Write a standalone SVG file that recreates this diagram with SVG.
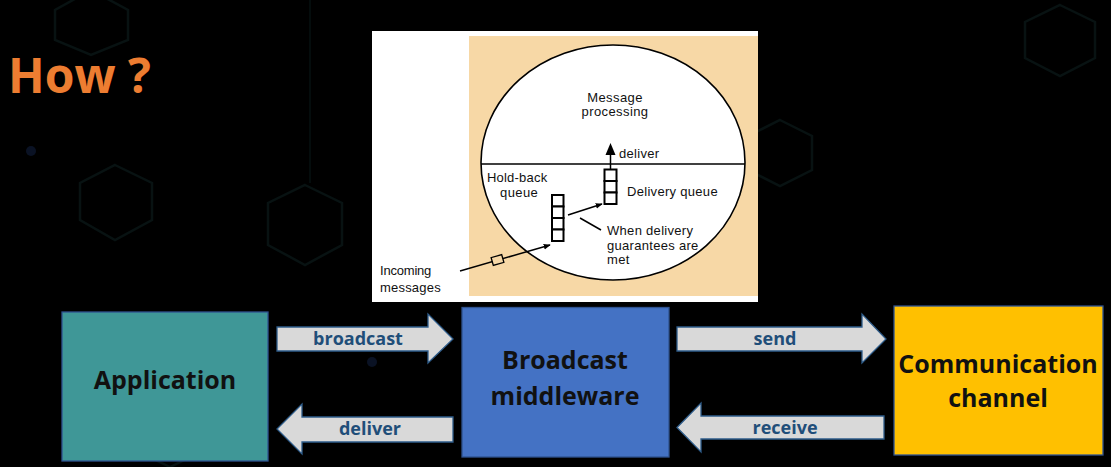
<svg xmlns="http://www.w3.org/2000/svg" width="1111" height="467" viewBox="0 0 1111 467">
<style>
.hex{fill:none;stroke:#081212;stroke-width:2.5}
.node{stroke:#2F528F;stroke-width:1.3}
.ntxt{font-family:"Open Sans",sans-serif;font-weight:bold;font-size:25px;fill:#111;text-anchor:middle}
.arr{fill:#D9D9D9;stroke:#2E5C8A;stroke-width:1.3}
.atxt{font-family:"Open Sans",sans-serif;font-weight:bold;font-size:18px;fill:#1F4E79;text-anchor:middle}
.ft{font-family:"Liberation Sans",Arial,sans-serif;font-size:13px;fill:#111}
.cell{fill:#fff;stroke:#000;stroke-width:2}
.ln{stroke:#000;stroke-width:1.5;fill:none}
</style>
<defs>
<marker id="ah" viewBox="0 0 10 10" refX="9" refY="5" markerWidth="7" markerHeight="7" orient="auto" markerUnits="userSpaceOnUse"><path d="M0,1 L10,5 L0,9 Z" fill="#000"/></marker>
</defs>
<rect width="1111" height="467" fill="#000"/>
<g id="background">
<polygon class="hex" points="91,-10 128,10 128,40 91,55 55,40 55,10"/>
<polygon class="hex" points="115,165 152,183 152,220 115,240 80,220 80,183" stroke="#070c16"/>
<polygon class="hex" points="305,185 342,203 342,245 305,265 268,245 268,203"/>
<line x1="310" y1="0" x2="310" y2="183" stroke="#061010" stroke-width="1.5"/>
<polygon class="hex" points="1060,5 1095,22 1095,58 1060,76 1025,58 1025,22"/>
<polygon class="hex" points="170,395 205,412 205,450 170,467 135,450 135,412"/>
<polygon class="hex" points="780,120 812,136 812,170 780,186 748,170 748,136"/>
<circle cx="31" cy="151" r="5" fill="#0a1224"/>
<circle cx="372" cy="362" r="5" fill="#0a1224"/>
</g>
<text x="8" y="93" font-family="Open Sans, sans-serif" font-weight="bold" font-size="48" fill="#ED7D31">How ?</text>
<g id="figure">
<rect x="372" y="31" width="386" height="271" fill="#fff"/>
<rect x="469" y="36" width="289" height="260" fill="#F7D8A6"/>
<ellipse cx="613" cy="162.5" rx="132" ry="117.5" fill="#fff" stroke="#000" stroke-width="1.6"/>
<line x1="481" y1="164" x2="745" y2="164" stroke="#000" stroke-width="1.6"/>
<text class="ft" x="615" y="102" text-anchor="middle" letter-spacing="0.4">Message</text>
<text class="ft" x="615" y="116" text-anchor="middle" letter-spacing="0.4">processing</text>
<line class="ln" x1="610.5" y1="169" x2="610.5" y2="152"/>
<polygon points="610.5,143 615.5,155 605.5,155" fill="#000"/>
<text class="ft" x="619" y="158" letter-spacing="0.3">deliver</text>
<rect class="cell" x="604.5" y="169.5" width="12" height="11.5"/>
<rect class="cell" x="604.5" y="181" width="12" height="11.5"/>
<rect class="cell" x="604.5" y="192.5" width="12" height="11.5"/>
<text class="ft" x="627" y="196" letter-spacing="0.3">Delivery queue</text>
<text class="ft" x="487" y="182" letter-spacing="0.2">Hold-back</text>
<text class="ft" x="500" y="197" letter-spacing="0.4">queue</text>
<rect class="cell" x="552" y="195" width="11.5" height="11.5"/>
<rect class="cell" x="552" y="206.5" width="11.5" height="11.5"/>
<rect class="cell" x="552" y="218" width="11.5" height="11.5"/>
<rect class="cell" x="552" y="229.5" width="11.5" height="11.5"/>
<line class="ln" x1="568" y1="215" x2="602" y2="204" marker-end="url(#ah)" stroke-width="1.3"/>
<line class="ln" x1="580" y1="218" x2="601" y2="230" stroke-width="1.3"/>
<text class="ft" x="607" y="235" letter-spacing="0.3">When delivery</text>
<text class="ft" x="607" y="250" letter-spacing="0.3">guarantees are</text>
<text class="ft" x="607" y="264" letter-spacing="0.3">met</text>
<line class="ln" x1="460" y1="271" x2="550" y2="245" marker-end="url(#ah)" stroke-width="1.3"/>
<rect x="492" y="256" width="11" height="8" fill="#F7D8A6" stroke="#000" stroke-width="1.3" transform="rotate(-16 497.5 260)"/>
<text class="ft" x="380" y="275" letter-spacing="-0.2">Incoming</text>
<text class="ft" x="380" y="292" letter-spacing="0.2">messages</text>
</g>
<g id="connectors">
<g id="c-broadcast"><polygon class="arr" points="277,327 428,327 428,314 453,339 428,363 428,351 277,351"/><text class="atxt" x="358" y="345">broadcast</text></g>
<g id="c-deliver"><polygon class="arr" points="277,429 302,404 302,417 453,417 453,442 302,442 302,454"/><text class="atxt" x="370" y="435">deliver</text></g>
<g id="c-send"><polygon class="arr" points="677,327 862,327 862,314 886,339 862,363 862,351 677,351"/><text class="atxt" x="775" y="345">send</text></g>
<g id="c-receive"><polygon class="arr" points="677,427.5 701,403 701,416 884,416 884,439 701,439 701,452"/><text class="atxt" x="785" y="434">receive</text></g>
</g>
<g id="application"><rect class="node" x="62" y="312" width="206" height="149" fill="#3F9797"/><text class="ntxt" x="165" y="389">Application</text></g>
<g id="middleware"><rect class="node" x="462" y="307.5" width="207" height="149.5" fill="#4472C4"/><text class="ntxt" x="565" y="369">Broadcast</text><text class="ntxt" x="565" y="405">middleware</text></g>
<g id="channel"><rect class="node" x="894" y="306" width="209" height="149" fill="#FFC000"/><text class="ntxt" x="998" y="373">Communication</text><text class="ntxt" x="998" y="407">channel</text></g>
</svg>
